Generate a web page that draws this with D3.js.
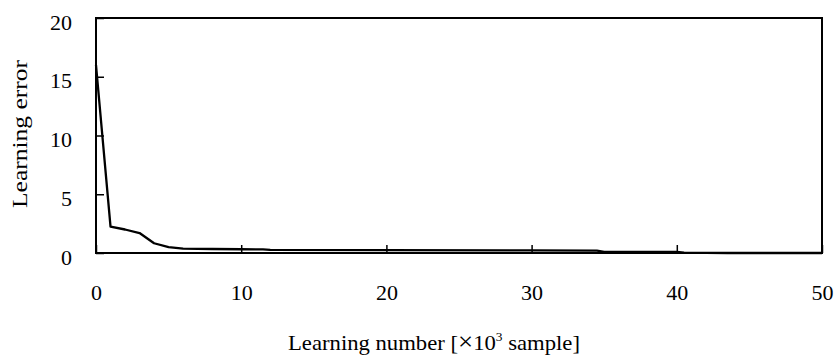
<!DOCTYPE html>
<html lang="en">
<head>
  <meta charset="UTF-8" />
  <title>Learning error</title>
  <script src="https://d3js.org/d3.v7.min.js"></script>
  <style>
    body {
      margin: 0;
      background: #fff;
    }
    svg text {
      font-family: 'Liberation Serif', 'Times New Roman', serif;
      fill: #000;
    }
  </style>
</head>
<body>
  <svg id="chart"></svg>

  <script>
    // learning number (x10^3 samples) and learning error
    const learningNumber = [0, 1, 2, 3, 4, 5, 6, 8, 10, 11.5, 12, 20, 30, 34.5, 35, 40, 40.5, 43.5, 45, 50];
    const learningError = [16, 2.25, 2.0, 1.7, 0.83, 0.5, 0.38, 0.34, 0.32, 0.31, 0.27, 0.25, 0.22, 0.2, 0.1, 0.1, 0.04, 0, 0, 0];
    const xTicks = [0, 10, 20, 30, 40, 50];
    const yTicks = [0, 5, 10, 15, 20];

    const svg = d3.select("#chart")
      .attr("width", 837)
      .attr("height", 363);

    const margin = { top: 18, right: 15, bottom: 110, left: 96 };
    const width = 837 - margin.left - margin.right;
    const height = 363 - margin.top - margin.bottom;
    const g = svg.append("g").attr("transform", `translate(${margin.left},${margin.top})`);

    const x = d3.scaleLinear().domain([0, 50]).range([0, width]);
    const y = d3.scaleLinear().domain([0, 20]).range([height, 0]);

    const xAxis = g.append("g")
      .attr("transform", `translate(0,${height})`)
      .call(d3.axisBottom(x).tickValues(xTicks).tickSize(-8).tickPadding(31).tickFormat(d3.format("d")));

    const yAxis = g.append("g")
      .call(d3.axisLeft(y).tickValues(yTicks).tickSize(-8).tickPadding(24));

    [xAxis, yAxis].forEach(a => {
      a.select(".domain").remove();
      a.selectAll("line").attr("stroke", "#000").attr("stroke-width", 1.5);
      a.selectAll("text").attr("font-size", "22px").style("font-family", "'Liberation Serif', serif");
    });
    yAxis.selectAll("text").attr("dy", "0.5em");

    // frame around the plot
    g.append("rect")
      .attr("x", 0)
      .attr("y", 0)
      .attr("width", width)
      .attr("height", height)
      .attr("fill", "none")
      .attr("stroke", "#000")
      .attr("stroke-width", 2);

    const data = learningNumber.map((d, i) => ({ n: d, e: learningError[i] }));

    g.append("path")
      .datum(data)
      .attr("fill", "none")
      .attr("stroke", "#000")
      .attr("stroke-width", 2.3)
      .attr("stroke-linejoin", "round")
      .attr("d", d3.line().x(d => x(d.n)).y(d => y(d.e)));

    // axis titles
    const xTitle = svg.append("text")
      .attr("x", 288)
      .attr("y", 350)
      .attr("font-size", "22px")
      .attr("textLength", 292)
      .attr("lengthAdjust", "spacingAndGlyphs");
    xTitle.append("tspan").text("Learning number [");
    xTitle.append("tspan").attr("font-size", "26px").text("\u00d7");
    xTitle.append("tspan").text("10");
    xTitle.append("tspan").attr("dy", -9).attr("font-size", "13px").text("3");
    xTitle.append("tspan").attr("dy", 9).text(" sample]");

    svg.append("text")
      .attr("transform", `translate(27,${134}) rotate(-90)`)
      .attr("text-anchor", "middle")
      .attr("font-size", "21px")
      .attr("textLength", 148)
      .attr("lengthAdjust", "spacingAndGlyphs")
      .text("Learning error");
  </script>
</body>
</html>
